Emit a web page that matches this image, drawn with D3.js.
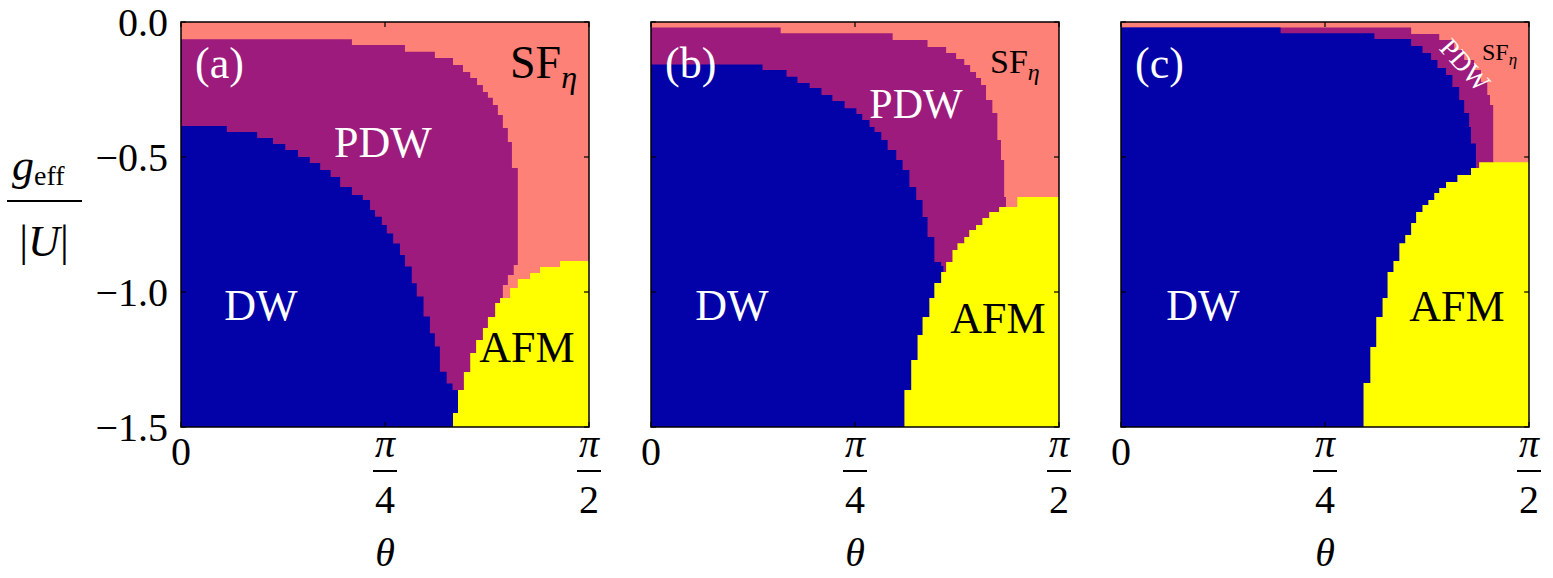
<!DOCTYPE html>
<meta charset="utf-8">
<style>
body { margin: 0; background: #fff; }
text { font-family: "Liberation Serif", "Times New Roman", serif; }
.frame { fill: none; stroke: #000; stroke-width: 1.5px; }
.tick line { stroke: #000; stroke-width: 1.2px; }
</style>
<svg width="1553" height="578"></svg>
<script src="https://d3js.org/d3.v7.min.js"></script>
<script>

// phase boundaries, theta in degrees (0..90 = 0..pi/2), g = g_eff/|U|
// each point: [theta where the row's boundary sits, g at top of that row]
var panelNames = ["(a)", "(b)", "(c)"];
var thetaTicks = [0, 45, 90];
var thetaLabels = ["0", "π/4", "π/2"];
var gTicks = [0, -0.5, -1.0, -1.5];
var gLabels = ["0.0", "−0.5", "−1.0", "−1.5"];

var pdwA = [[0,-0.064],[37.7,-0.064],[49.4,-0.085],[56.0,-0.110],[60.0,-0.133],[62.2,-0.159],[63.8,-0.185],[65.3,-0.207],[66.6,-0.233],[67.7,-0.259],[68.8,-0.281],[69.9,-0.307],[71.0,-0.344],[72.1,-0.393],[73.0,-0.444],[74.3,-0.541],[73.4,-0.900],[72.1,-0.937],[71.0,-0.974],[70.4,-1.022]];
var dwA = [[0,-0.385],[10.1,-0.385],[16.8,-0.407],[20.3,-0.430],[23.0,-0.452],[25.8,-0.474],[28.4,-0.500],[30.7,-0.522],[33.0,-0.548],[35.1,-0.574],[37.7,-0.611],[40.1,-0.641],[41.7,-0.659],[42.8,-0.696],[44.3,-0.721],[45.4,-0.752],[46.8,-0.783],[48.3,-0.820],[49.4,-0.863],[50.9,-0.906],[52.0,-0.968],[53.5,-1.017],[54.9,-1.091],[56.0,-1.153],[57.1,-1.202],[58.6,-1.295],[59.9,-1.339],[61.2,-1.363]];
var afmA = [[90,-0.885],[83.6,-0.885],[79.2,-0.907],[77.0,-0.930],[74.3,-0.952],[72.6,-0.985],[70.4,-1.022],[69.3,-1.041],[67.7,-1.093],[66.6,-1.133],[65.1,-1.178],[63.8,-1.226],[62.4,-1.296],[61.1,-1.363],[60.0,-1.448],[60.0,-1.5]];

var pdwB = [[0,-0.020],[28.6,-0.020],[53.3,-0.042],[61.0,-0.067],[65.1,-0.093],[67.3,-0.115],[69.1,-0.137],[70.4,-0.159],[71.7,-0.185],[72.8,-0.207],[73.9,-0.233],[75.3,-0.289],[76.4,-0.337],[77.2,-0.437],[77.9,-0.511],[78.3,-0.648],[76.8,-0.685]];
var dwB = [[0,-0.157],[24.6,-0.157],[29.9,-0.178],[32.3,-0.203],[35.0,-0.226],[37.6,-0.244],[40.0,-0.270],[42.7,-0.293],[45.3,-0.319],[46.6,-0.341],[48.2,-0.363],[49.3,-0.389],[50.8,-0.407],[52.2,-0.437],[54.1,-0.474],[55.5,-0.511],[57.0,-0.548],[58.5,-0.611],[59.9,-0.659],[61.0,-0.722],[62.5,-0.796],[64.0,-0.889],[64.5,-0.904]];
var afmB = [[90,-0.648],[80.8,-0.648],[76.8,-0.685],[74.6,-0.704],[73.1,-0.726],[71.7,-0.752],[70.2,-0.770],[69.1,-0.796],[67.6,-0.819],[66.5,-0.844],[65.1,-0.889],[64.0,-0.926],[62.5,-0.967],[61.4,-1.022],[59.9,-1.093],[58.8,-1.159],[57.4,-1.252],[55.9,-1.363],[55.9,-1.5]];

var pdwC = [[0,-0.020],[64.0,-0.020],[70.2,-0.044],[73.5,-0.067],[75.7,-0.104],[77.9,-0.141],[79.4,-0.178],[80.8,-0.222],[81.4,-0.270],[82.1,-0.307],[82.3,-0.519]];
var dwC = [[0,-0.020],[35.2,-0.020],[55.9,-0.042],[64.0,-0.063],[66.5,-0.089],[68.4,-0.115],[69.8,-0.141],[71.7,-0.170],[73.1,-0.196],[74.6,-0.241],[75.7,-0.289],[76.8,-0.337],[77.2,-0.389],[78.3,-0.450]];
var afmC = [[90,-0.519],[79.0,-0.519],[77.2,-0.541],[74.2,-0.567],[71.7,-0.593],[70.2,-0.615],[69.1,-0.633],[67.8,-0.659],[66.5,-0.678],[65.1,-0.704],[64.0,-0.744],[62.7,-0.789],[61.4,-0.819],[60.1,-0.885],[58.8,-0.926],[57.7,-1.022],[56.3,-1.093],[55.0,-1.204],[53.5,-1.337],[53.5,-1.5]];

var colors = {SF: "#fd8176", PDW: "#9d1b7c", DW: "#0202a8", AFM: "#ffff00"};

var svg = d3.select("svg");
var W = 408, H = 405, top0 = 22;
var lefts = [181, 651, 1121];

var phases = [
  {pdw: pdwA, dw: dwA, afm: afmA},
  {pdw: pdwB, dw: dwB, afm: afmB},
  {pdw: pdwC, dw: dwC, afm: afmC}
];

// label layout, pixel offsets inside each panel
var labelSets = [
  {sf: [329, 56, 46, 32], pdw: [202, 135, 44, 0], dw: [80, 298], afm: [346, 340]},
  {sf: [339, 51, 34, 24], pdw: [265, 96, 42, 0], dw: [81, 298], afm: [347, 311]},
  {sf: [361, 38, 24, 17], pdw: [344, 43, 27, 48], dw: [82, 298], afm: [336, 299]}
];

var x = d3.scaleLinear().domain([0, 90]).range([0, W]);
var y = d3.scaleLinear().domain([0, -1.5]).range([0, H]);

var area = d3.line()
    .x(function(d) { return x(d[0]); })
    .y(function(d) { return y(d[1]); })
    .curve(d3.curveStepBefore);

function closeDown(pts) {
  var last = pts[pts.length - 1];
  return pts.concat([[last[0], -1.5], [0, -1.5]]);
}

phases.forEach(function(p, i) {
  var g = svg.append("g").attr("transform", "translate(" + lefts[i] + "," + top0 + ")");

  g.append("rect").attr("width", W).attr("height", H).attr("fill", colors.SF);
  g.append("path").attr("d", area(closeDown(p.pdw)) + "Z").attr("fill", colors.PDW);
  g.append("path").attr("d", area(closeDown(p.dw)) + "Z").attr("fill", colors.DW);
  g.append("path").attr("d", area(p.afm.concat([[90, -1.5]])) + "Z").attr("fill", colors.AFM);

  g.append("rect").attr("class", "frame").attr("width", W).attr("height", H);

  // inward ticks
  var t = g.append("g").attr("class", "tick");
  thetaTicks.forEach(function(v) {
    t.append("line").attr("x1", x(v)).attr("x2", x(v)).attr("y1", H).attr("y2", H - 5);
    t.append("line").attr("x1", x(v)).attr("x2", x(v)).attr("y1", 0).attr("y2", 5);
  });
  gTicks.forEach(function(v) {
    t.append("line").attr("x1", 0).attr("x2", 5).attr("y1", y(v)).attr("y2", y(v));
    t.append("line").attr("x1", W).attr("x2", W - 5).attr("y1", y(v)).attr("y2", y(v));
  });

  // x tick labels
  thetaLabels.forEach(function(lab, k) {
    var xx = x(thetaTicks[k]);
    if (lab == "0") {
      g.append("text").attr("x", xx).attr("y", 443).attr("text-anchor", "middle")
        .attr("font-size", 40).text("0");
    } else {
      var parts = lab.split("/");
      g.append("text").attr("x", xx).attr("y", 435).attr("text-anchor", "middle")
        .attr("font-size", 40).attr("font-style", "italic").text(parts[0]);
      g.append("line").attr("x1", xx - 12).attr("x2", xx + 12)
        .attr("y1", 449).attr("y2", 449).attr("stroke", "#000").attr("stroke-width", 2);
      g.append("text").attr("x", xx).attr("y", 491).attr("text-anchor", "middle")
        .attr("font-size", 40).text(parts[1]);
    }
  });
  g.append("text").attr("x", W / 2).attr("y", 544).attr("text-anchor", "middle")
    .attr("font-size", 40).attr("font-style", "italic").text("θ");

  // phase labels
  var L = labelSets[i];
  g.append("text").attr("x", 14).attr("y", 56).attr("font-size", 44)
    .attr("fill", "#fff").text(panelNames[i]);

  var sf = g.append("text").attr("x", L.sf[0]).attr("y", L.sf[1]).attr("font-size", L.sf[2]).text("SF");
  sf.append("tspan").attr("font-size", L.sf[3]).attr("font-style", "italic")
    .attr("dy", L.sf[2] * 0.22).text("η");

  var pdw = g.append("text").attr("text-anchor", "middle").attr("fill", "#fff")
    .attr("font-size", L.pdw[2]).text("PDW");
  if (L.pdw[3]) {
    pdw.attr("dominant-baseline", "central")
      .attr("transform", "translate(" + L.pdw[0] + "," + L.pdw[1] + ") rotate(" + L.pdw[3] + ")");
  } else {
    pdw.attr("x", L.pdw[0]).attr("y", L.pdw[1]);
  }

  g.append("text").attr("x", L.dw[0]).attr("y", L.dw[1]).attr("text-anchor", "middle")
    .attr("fill", "#fff").attr("font-size", 44).text("DW");
  g.append("text").attr("x", L.afm[0]).attr("y", L.afm[1]).attr("text-anchor", "middle")
    .attr("fill", "#000").attr("font-size", 44).text("AFM");
});

// y tick labels on the first panel
var ya = svg.append("g").attr("transform", "translate(0," + top0 + ")");
gTicks.forEach(function(v, k) {
  ya.append("text").attr("x", 168).attr("y", y(v)).attr("dy", "0.35em")
    .attr("text-anchor", "end").attr("font-size", 40).text(gLabels[k]);
});

// y axis label: g_eff / |U|
var yl = svg.append("text").attr("x", 12).attr("y", 180).attr("font-size", 44);
yl.append("tspan").attr("font-style", "italic").text("g");
yl.append("tspan").attr("font-size", 28).attr("dy", 5).text("eff");
svg.append("line").attr("x1", 7).attr("x2", 82).attr("y1", 201).attr("y2", 201)
  .attr("stroke", "#000").attr("stroke-width", 2);
var yu = svg.append("text").attr("x", 44).attr("y", 256).attr("text-anchor", "middle").attr("font-size", 44);
yu.append("tspan").text("|");
yu.append("tspan").attr("font-style", "italic").text("U");
yu.append("tspan").text("|");

</script>
